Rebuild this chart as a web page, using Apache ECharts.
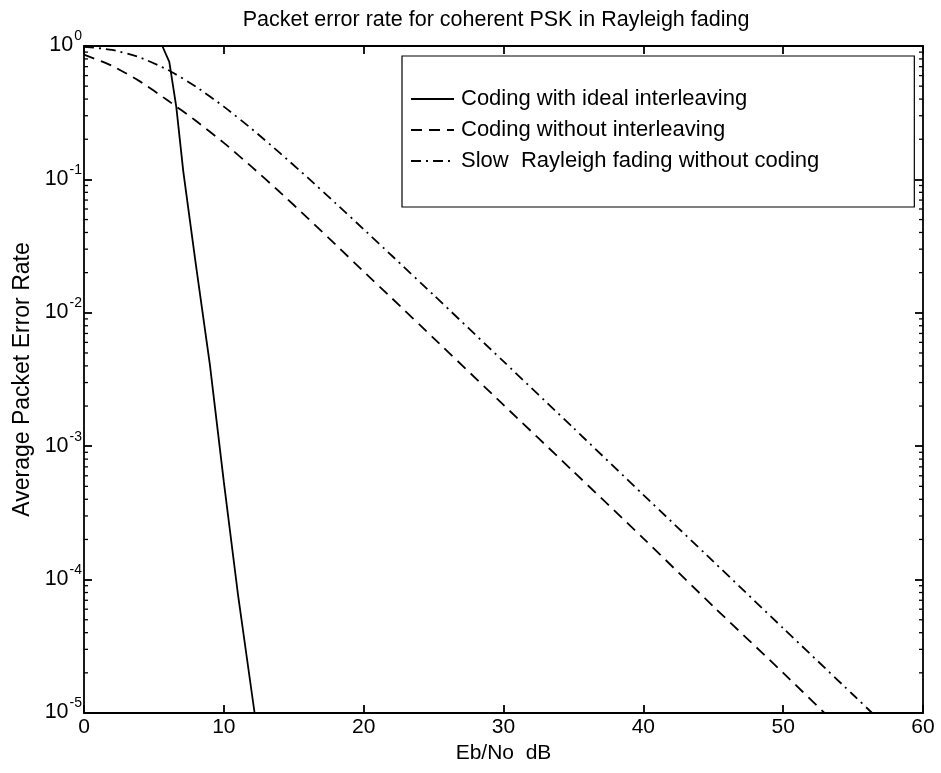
<!DOCTYPE html>
<html>
<head>
<meta charset="utf-8">
<script src="https://cdn.jsdelivr.net/npm/echarts@6/dist/echarts.min.js"></script>
<style>
html,body{margin:0;padding:0;background:#fff;}
#chart{width:941px;height:773px;}
</style>
</head>
<body>
<div id="chart"></div>
<script>
// ---- data ----
const titleText = 'Packet error rate for coherent PSK in Rayleigh fading';
const xName = 'Eb/No  dB';
const yName = 'Average Packet Error Rate';
const seriesNames = ['Coding with ideal interleaving', 'Coding without interleaving', 'Slow  Rayleigh fading without coding'];

const solidX = [5.6, 6.1, 6.6, 7.1, 8.0, 9.0, 10.0, 11.0, 12.2];
const solidY = [1.0, 0.76, 0.35, 0.115, 0.023, 0.0041, 0.00054, 0.000079, 0.00001];

const dashedX = [0, 2, 4, 6, 8, 10, 12, 14, 16, 18, 20, 22, 25, 30, 35, 40, 45, 50, 52.95];
const dashedY = [0.861, 0.711, 0.543, 0.39, 0.275, 0.188, 0.124, 0.0804, 0.0513, 0.0324, 0.0204, 0.0129, 0.00646, 0.00204, 0.000646, 0.000204, 0.000063, 0.00002, 0.00001];

const dashdotX = [0, 2, 4, 6, 8, 10, 12, 14, 16, 18, 20, 22, 25, 30, 35, 40, 45, 50, 55, 56.36];
const dashdotY = [0.987, 0.935, 0.821, 0.662, 0.496, 0.351, 0.239, 0.158, 0.103, 0.0662, 0.0423, 0.0269, 0.0136, 0.00432, 0.00137, 0.000432, 0.000137, 0.0000432, 0.0000137, 0.00001];

const xTicks = [0, 10, 20, 30, 40, 50, 60];
const yDecades = [-5, -4, -3, -2, -1, 0];
const minorMultipliers = [2, 3, 4, 5, 6, 7, 8, 9];

// ---- build ----
const pairs = (xs, ys) => xs.map((x, i) => [x, ys[i]]);
const minorVals = [];
for (let k = yDecades[0]; k < yDecades[yDecades.length - 1]; k++) {
  minorMultipliers.forEach(m => minorVals.push([0, m * Math.pow(10, k)]));
}

const FONT = 'Liberation Sans';
const chart = echarts.init(document.getElementById('chart'), null, {renderer: 'canvas'});

const yLabelFmt = v => {
  const e = Math.round(Math.log10(v));
  return '{b|10}{s|' + (e < 0 ? '-' + (-e) : e) + '}';
};

const AX = {color: '#000', width: 1.8};

const option = {
  backgroundColor: '#fff',
  animation: false,
  textStyle: {fontFamily: FONT, color: '#000'},
  title: {
    text: titleText,
    left: 491, top: 4, textAlign: 'center',
    textStyle: {fontFamily: FONT, fontSize: 21.5, fontWeight: 'normal', color: '#000'}
  },
  grid: {left: 84, right: 18, top: 46, bottom: 60, show: false},
  legend: {
    data: seriesNames,
    orient: 'vertical',
    left: 402, top: 56,
    padding: [32, 95, 35, 8],
    itemWidth: 43, itemHeight: 14, itemGap: 9,
    borderColor: '#000', borderWidth: 1.2,
    backgroundColor: '#fff',
    itemStyle: {opacity: 0},
    textStyle: {fontFamily: FONT, fontSize: 22, color: '#000', lineHeight: 22, padding: [0, 0, 0, 2]}
  },
  xAxis: [{
    type: 'value', min: 0, max: 60, interval: 10, position: 'bottom',
    name: xName, nameLocation: 'middle', nameGap: 24,
    nameTextStyle: {fontFamily: FONT, fontSize: 21, color: '#000'},
    axisLine: {show: true, onZero: false, lineStyle: AX},
    axisTick: {show: true, inside: true, length: 8, lineStyle: AX},
    axisLabel: {fontFamily: FONT, fontSize: 21, color: '#000', margin: 4},
    splitLine: {show: false}
  }, {
    type: 'value', min: 0, max: 60, interval: 10, position: 'top',
    axisLine: {show: true, onZero: false, lineStyle: AX},
    axisTick: {show: true, inside: true, length: 8, lineStyle: AX},
    axisLabel: {show: false}, splitLine: {show: false}
  }],
  yAxis: [{
    type: 'log', logBase: 10, min: 1e-5, max: 1, position: 'left',
    name: yName, nameLocation: 'middle', nameGap: 50, nameRotate: 90,
    nameTextStyle: {fontFamily: FONT, fontSize: 23, color: '#000'},
    axisLine: {show: true, onZero: false, lineStyle: AX},
    axisTick: {show: true, inside: true, length: 8, lineStyle: AX},
    axisLabel: {
      margin: 2, formatter: yLabelFmt,
      rich: {
        b: {fontFamily: FONT, fontSize: 21.5, color: '#000', verticalAlign: 'bottom', lineHeight: 21},
        s: {fontFamily: FONT, fontSize: 14, color: '#000', verticalAlign: 'bottom', padding: [0, 0, 13, 1], lineHeight: 14}
      }
    },
    splitLine: {show: false}
  }, {
    type: 'log', logBase: 10, min: 1e-5, max: 1, position: 'right',
    axisLine: {show: true, onZero: false, lineStyle: AX},
    axisTick: {show: true, inside: true, length: 8, lineStyle: AX},
    axisLabel: {show: false}, splitLine: {show: false}
  }],
  series: [{
    name: seriesNames[0], type: 'line', data: pairs(solidX, solidY),
    symbol: 'none', smooth: false,
    lineStyle: {color: '#000', width: 1.8, type: 'solid'},
    itemStyle: {color: '#000'}
  }, {
    name: seriesNames[1], type: 'line', data: pairs(dashedX, dashedY),
    symbol: 'none', smooth: 0.2,
    lineStyle: {color: '#000', width: 1.8, type: [11, 7]},
    itemStyle: {color: '#000'}
  }, {
    name: seriesNames[2], type: 'line', data: pairs(dashdotX, dashdotY),
    symbol: 'none', smooth: 0.2,
    lineStyle: {color: '#000', width: 1.8, type: [10, 5, 2, 5]},
    itemStyle: {color: '#000'}
  }, {
    name: 'minorTicks', type: 'custom', data: minorVals, silent: true, clip: false,
    renderItem: function (params, api) {
      const v = api.value(1);
      const pl = api.coord([0, v]);
      const pr = api.coord([60, v]);
      return {
        type: 'group',
        children: [
          {type: 'line', shape: {x1: pl[0], y1: pl[1], x2: pl[0] + 4, y2: pl[1]}, style: {stroke: '#000', lineWidth: 1.3}},
          {type: 'line', shape: {x1: pr[0], y1: pr[1], x2: pr[0] - 4, y2: pr[1]}, style: {stroke: '#000', lineWidth: 1.3}}
        ]
      };
    }
  }]
};
chart.setOption(option);
</script>
</body>
</html>
